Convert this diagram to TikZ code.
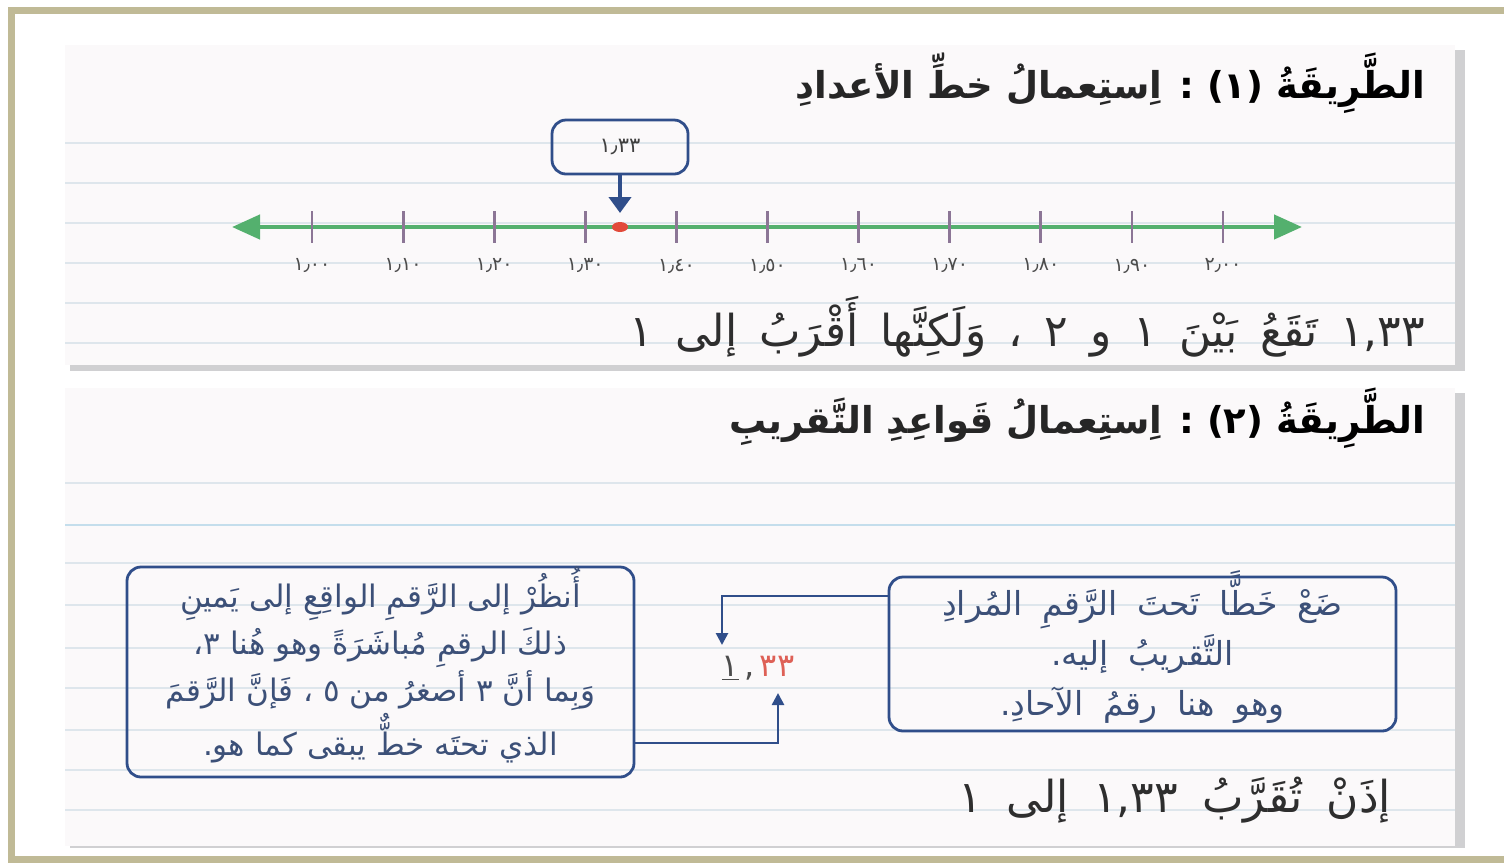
\documentclass[tikz,border=0pt]{standalone}
\usepackage{fontspec}
\usetikzlibrary{arrows.meta}
\TeXXeTstate=1
\newfontfamily\ar[Script=Arabic]{DejaVu Sans}
\newfontfamily\dig{DejaVu Sans}
\newcommand{\myrl}[1]{\beginR #1\endR}
\newcommand{\widesp}[1]{\spaceskip=#1em plus 0.1em minus 0.05em\relax}
\definecolor{frametan}{RGB}{192,186,150}
\definecolor{panelbg}{RGB}{251,249,250}
\definecolor{ruleline}{RGB}{222,230,236}
\definecolor{ruleblue}{RGB}{196,222,236}
\definecolor{numgreen}{RGB}{84,176,110}
\definecolor{tickpurple}{RGB}{140,118,150}
\definecolor{dotred}{RGB}{226,74,58}
\definecolor{softred}{RGB}{222,96,86}
\definecolor{boxblue}{RGB}{48,78,138}
\definecolor{titlered}{RGB}{214,64,80}
\definecolor{boxtext}{RGB}{60,80,120}
\definecolor{shadowgray}{RGB}{208,208,210}
\tikzset{
  panel/.style={fill=panelbg, draw=none},
  rule/.style={draw=ruleline, line width=0.8pt},
  tickmark/.style={draw=tickpurple, line width=1.4pt},
  ticklabel/.style={font=\dig\fontsize{9.5}{11}\selectfont, text=black!70},
  infobox/.style={draw=boxblue, line width=1.4pt, rounded corners=7pt, fill=none},
  boxtxt/.style={font=\ar\fontsize{15.5}{23.5}\selectfont, text=boxtext, align=center},
  title/.style={font=\ar\bfseries\fontsize{18.5}{22}\selectfont, anchor=east, text=black!85},
  sentence/.style={font=\ar\fontsize{22}{26}\selectfont, anchor=east, text=black!82},
  conn/.style={draw=boxblue, line width=1.3pt, -{Triangle[length=6pt,width=6pt]}},
}
\begin{document}
\begin{tikzpicture}[x=0.5pt,y=-0.5pt]
\useasboundingbox (0,0) rectangle (1504,864);
\fill[white] (0,0) rectangle (1504,864);
% shadows
\fill[shadowgray] (70,50) rectangle (1465,371);
\fill[shadowgray] (70,393) rectangle (1465,848);
% panels
\fill[panel] (65,45) rectangle (1455,365);
\fill[panel] (65,388) rectangle (1455,846);
% ruled lines panel 1
\foreach \yy in {143,183,223,263,303,343}
  \draw[rule] (65,\yy) -- (1455,\yy);
% ruled lines panel 2
\foreach \yy in {483,563,605,648,688,730,770,810}
  \draw[rule] (65,\yy) -- (1455,\yy);
\draw[draw=ruleblue, line width=1.2pt] (65,525) -- (1455,525);
% frame
\draw[frametan, line width=3.5pt] (11,10) rectangle (1520,859);

% ---------- panel 1 ----------
\node[title] (t1) at (1432,83) {\myrl{{\color{titlered}الطَّرِيقَةُ (١) :} اِستِعمالُ خطِّ الأعدادِ}};

\coordinate (nlL) at (232,227);
\coordinate (nlR) at (1302,227);
\draw[numgreen, line width=2.2pt, {Triangle[length=14pt,width=12pt]}-{Triangle[length=14pt,width=12pt]}] (nlL) -- (nlR);
\foreach \i/\lab in {0/١٫٠٠,1/١٫١٠,2/١٫٢٠,3/١٫٣٠,4/١٫٤٠,5/١٫٥٠,6/١٫٦٠,7/١٫٧٠,8/١٫٨٠,9/١٫٩٠,10/٢٫٠٠}{
  \draw[tickmark] ({312+91.1*\i},211) -- ({312+91.1*\i},243);
  \node[ticklabel] (lab\i) at ({312+91.1*\i},266) {\lab};
}
\fill[dotred] (620,227) ellipse (8 and 5);
\node[infobox, minimum width=68pt, minimum height=27pt, font=\dig\fontsize{10.5}{12}\selectfont, text=black!75] (call) at (620,147) {١٫٣٣};
\coordinate (dotTop) at (620,213);
\draw[draw=boxblue, line width=2.2pt, -{Triangle[length=8pt,width=11pt]}] (call.south) -- (dotTop);

\node[sentence] (s1) at (1432,327) {\widesp{0.5}\myrl{\beginL{\dig ١,٣٣}\endL{} تَقَعُ بَيْنَ ١ و ٢ ، وَلَكِنَّها أَقْرَبُ إلى ١}};

% ---------- panel 2 ----------
\node[title] (t2) at (1432,418) {\myrl{{\color{titlered}الطَّرِيقَةُ (٢) :} اِستِعمالُ قَواعِدِ التَّقريبِ}};

\node[infobox, minimum width=253.5pt, minimum height=105pt] (lbox) at (380.5,672) {};
\node[boxtxt] (ltxt) at (380.5,665) {\myrl{أُنظُرْ إلى الرَّقمِ الواقِعِ إلى يَمينِ}\\
\myrl{ذلكَ الرقمِ مُباشَرَةً وهو هُنا ٣،}\\
\myrl{وَبِما أنَّ ٣ أصغرُ من ٥ ، فَإنَّ الرَّقمَ}\\
\myrl{الذي تحتَه خطٌّ يبقى كما هو.}};

\node[infobox, minimum width=253.5pt, minimum height=77pt] (rbox) at (1142.5,654) {};
\node[boxtxt, font=\ar\fontsize{16.5}{25}\selectfont] (rtxt) at (1142.5,647) {\widesp{0.6}\myrl{ضَعْ خَطًّا تَحتَ الرَّقمِ المُرادِ}\\
\widesp{0.6}\myrl{التَّقريبُ إليه.}\\
\widesp{0.6}\myrl{وهو هنا رقمُ الآحادِ.}};

\node[font=\dig\fontsize{16}{18}\selectfont, text=black!70, inner sep=1pt] (num) at (758,668) {\underline{١}\,,\,{\color{softred}٣٣}};

\coordinate (rA) at (889,596);
\coordinate (rB) at (722,596);
\coordinate (rC) at (722,645);
\draw[conn] (rA) -- (rB) -- (rC);
\coordinate (lA) at (634,743);
\coordinate (lB) at (778,743);
\coordinate (lC) at (778,693);
\draw[conn] (lA) -- (lB) -- (lC);

\node[sentence] (s2) at (1398,800) {\widesp{0.55}\myrl{إذَنْ تُقَرَّبُ \beginL{\dig ١,٣٣}\endL{} إلى ١}};
\end{tikzpicture}
\end{document}
